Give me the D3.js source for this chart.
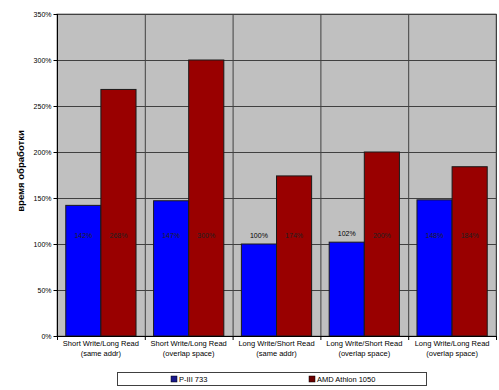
<!DOCTYPE html>
<html><head><meta charset="utf-8">
<script src="https://cdn.jsdelivr.net/npm/d3@7"></script>
<style>body{margin:0;background:#fff}svg{display:block;font-family:Arial,"Liberation Sans",sans-serif}</style>
</head><body><svg id="c" width="499" height="390"></svg>
<script>
const categories = [
  ["Short Write/Long  Read","(same addr)"],
  ["Short Write/Long  Read","(overlap space)"],
  ["Long  Write/Short Read","(same addr)"],
  ["Long  Write/Short Read","(overlap space)"],
  ["Long  Write/Long  Read","(overlap space)"]
];
const seriesNames = ["P-III 733", "AMD Athlon 1050"];
const seriesColors = ["#0000ff", "#990000"];
const piii = [142, 147, 100, 102, 148];
const athlon = [268, 300, 174, 200, 184];
const yTicks = [0, 50, 100, 150, 200, 250, 300, 350];
const yTitle = "время обработки";

const svg = d3.select("#c");
const m = {l:57, r:496, t:14, b:336};
const x0 = d3.scaleBand().domain(d3.range(categories.length)).range([m.l, m.r]).padding(0);
const x1 = d3.scaleBand().domain([0,1]).range([0, x0.bandwidth()]).paddingInner(0).paddingOuter(0.25);
const y = d3.scaleLinear().domain([0,350]).range([m.b, m.t]);

svg.append("rect").attr("x", m.l).attr("y", m.t).attr("width", m.r-m.l).attr("height", m.b-m.t)
  .attr("fill", "#c0c0c0").attr("stroke", "#808080");
svg.append("g").selectAll("line").data(yTicks.slice(1)).join("line")
  .attr("x1", m.l).attr("x2", m.r).attr("y1", d=>y(d)+0.5).attr("y2", d=>y(d)+0.5)
  .attr("stroke", "#404040").attr("stroke-width", 1);
svg.append("g").selectAll("line").data(d3.range(1, categories.length+1)).join("line")
  .attr("x1", i=>x0(i-1)+x0.bandwidth()+0.5).attr("x2", i=>x0(i-1)+x0.bandwidth()+0.5)
  .attr("y1", m.t).attr("y2", m.b).attr("stroke", "#404040");

const data = categories.map((c,i)=>[piii[i], athlon[i]]);
const g = svg.append("g").selectAll("g").data(data).join("g").attr("transform", (d,i)=>`translate(${x0(i)},0)`);
g.selectAll("rect").data(d=>d).join("rect")
  .attr("x", (d,j)=>x1(j)).attr("width", x1.bandwidth())
  .attr("y", d=>y(d)).attr("height", d=>y(0)-y(d))
  .attr("fill", (d,j)=>seriesColors[j]).attr("stroke", "#1a1a1a").attr("stroke-width", 1);
g.selectAll("text").data(d=>d).join("text")
  .attr("x", (d,j)=>x1(j)+x1.bandwidth()/2)
  .attr("y", d=> d < 110 ? y(d)-6 : y(100)-6)
  .attr("text-anchor", "middle").attr("font-size", 7)
  .attr("fill", d=> d < 110 ? "#000" : "#202020")
  .text(d=>d+"%");

svg.append("line").attr("x1", m.l+0.5).attr("x2", m.l+0.5).attr("y1", m.t).attr("y2", m.b).attr("stroke", "#000");
svg.append("line").attr("x1", m.l).attr("x2", m.r).attr("y1", m.b+0.5).attr("y2", m.b+0.5).attr("stroke", "#000");
const yAxis = d3.axisLeft(y).tickValues(yTicks).tickFormat(d=>d+"%").tickSize(4).tickPadding(2);
svg.append("g").attr("transform", `translate(${m.l+0.5},0)`).call(yAxis)
  .call(a=>a.select(".domain").remove())
  .call(a=>a.selectAll("text").attr("font-size", 7).attr("font-family", "Arial, Liberation Sans, sans-serif"));
svg.append("g").selectAll("line").data(d3.range(0, categories.length+1)).join("line")
  .attr("x1", i=>(i<categories.length? x0(i) : m.r)+0.5).attr("x2", i=>(i<categories.length? x0(i) : m.r)+0.5)
  .attr("y1", m.b).attr("y2", m.b+4).attr("stroke", "#000");
const xl = svg.append("g").selectAll("text").data(categories).join("text")
  .attr("x", (d,i)=>x0(i)+x0.bandwidth()/2).attr("y", 346)
  .attr("text-anchor", "middle").attr("font-size", 7.5).attr("fill", "#000");
xl.selectAll("tspan").data(d=>d).join("tspan")
  .attr("x", function(){return this.parentNode.getAttribute("x");})
  .attr("dy", (d,k)=>k===0?0:10).text(d=>d);

svg.append("text").attr("transform", "translate(24,171) rotate(-90)")
  .attr("text-anchor", "middle").attr("font-size", 9.5).attr("font-weight", "bold").text(yTitle);

svg.append("rect").attr("x", 117.5).attr("y", 372.5).attr("width", 309).attr("height", 13)
  .attr("fill", "#fff").attr("stroke", "#404040");
const lx = [171, 309];
const lg = svg.append("g").selectAll("g").data(seriesNames).join("g")
  .attr("transform", (d,i)=>`translate(${lx[i]},379)`);
lg.append("rect").attr("x", 0).attr("y", -3).attr("width", 6).attr("height", 6)
  .attr("fill", (d,i)=>i===0?"#1a1a8c":"#6b0000").attr("stroke", "#000").attr("stroke-width", 0.5);
lg.append("text").attr("x", 8).attr("y", 3).attr("font-size", 7.5).text(d=>d);
</script></body></html>
